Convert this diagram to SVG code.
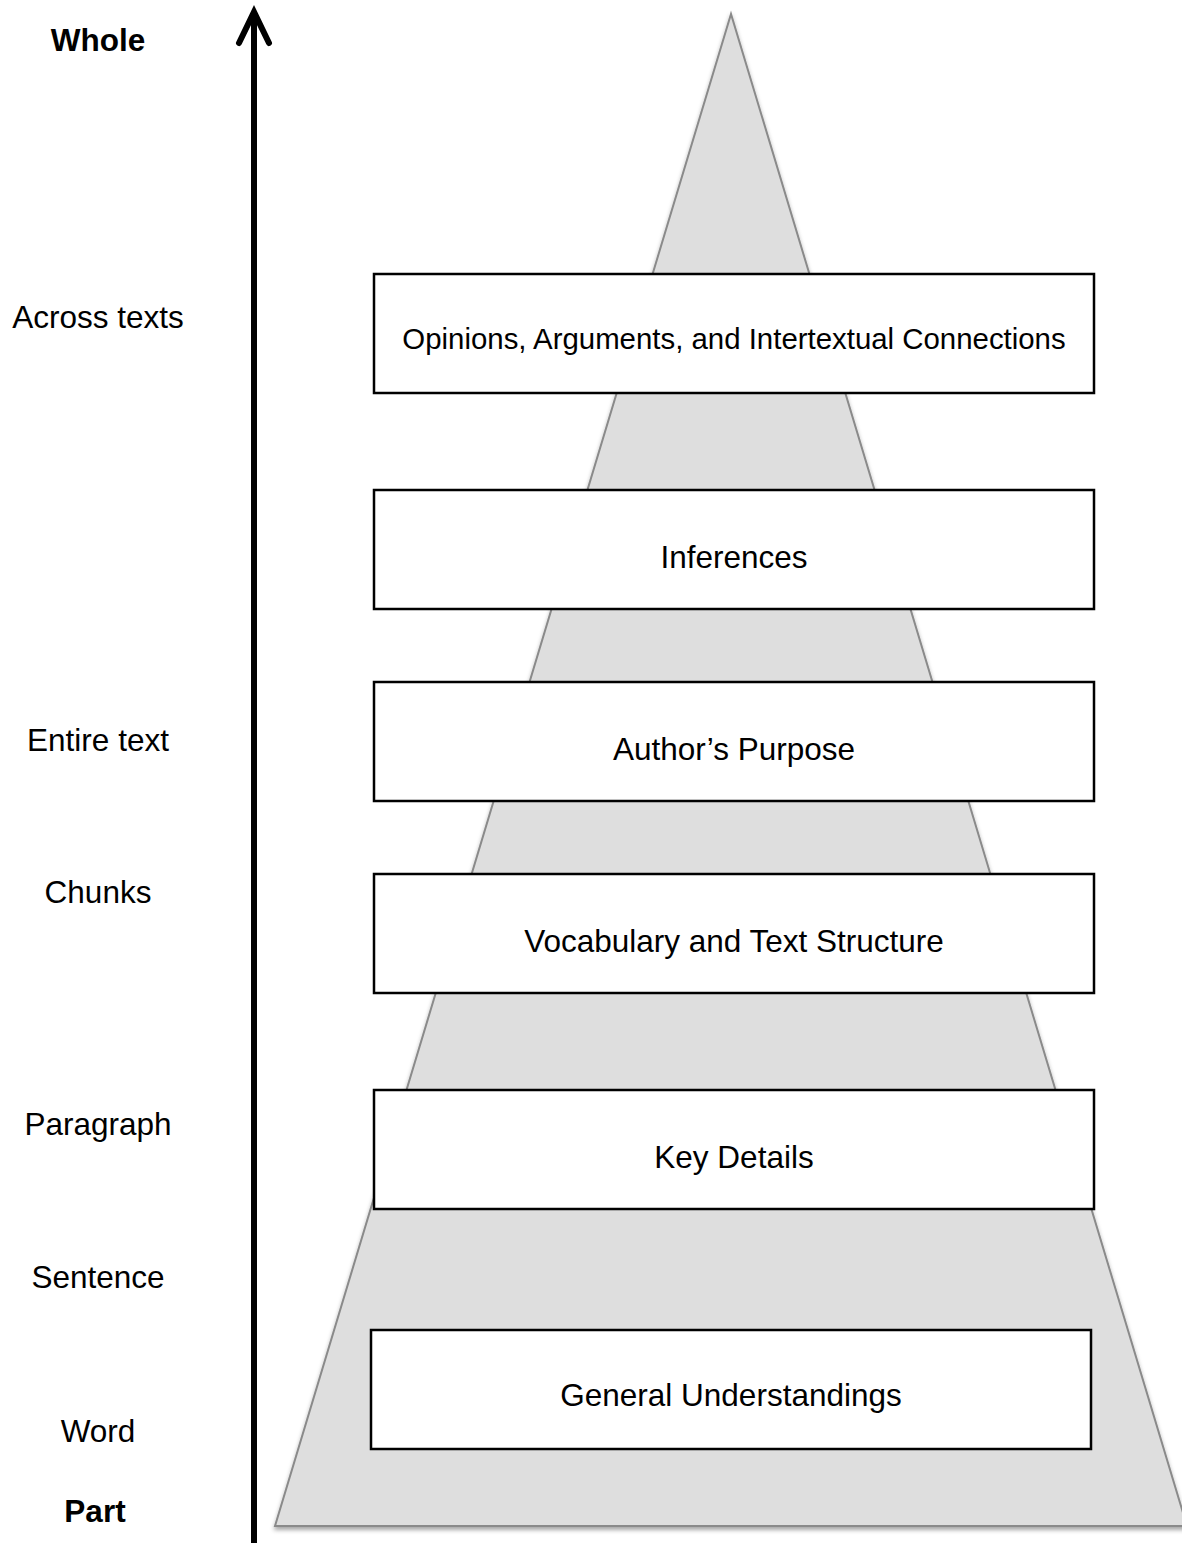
<svg xmlns="http://www.w3.org/2000/svg" width="1182" height="1543" viewBox="0 0 1182 1543">
<style>
.lbl{font-family:"Liberation Sans",Arial,sans-serif;font-size:31.5px;fill:#000;text-anchor:middle}
.b{font-weight:bold}
.box{fill:#fff;stroke:#000;stroke-width:2.5}
.bt{font-family:"Liberation Sans",Arial,sans-serif;font-size:31.5px;fill:#000;text-anchor:middle}
</style>
<defs>
<filter id="sh" x="-5%" y="-5%" width="110%" height="110%">
<feDropShadow dx="0" dy="3" stdDeviation="2" flood-color="#000" flood-opacity="0.35"/>
</filter>
</defs>
<rect width="1182" height="1543" fill="#fff"/>
<g id="pyramid">
<polygon points="731,14 275,1526 1187,1526" fill="#dedede" stroke="#8a8a8a" stroke-width="2" filter="url(#sh)"/>
</g>
<g id="connectors">
<line x1="254" y1="1543" x2="254" y2="14" stroke="#000" stroke-width="6"/>
<polyline points="239,43 254,12 269,43" fill="none" stroke="#000" stroke-width="6" stroke-linecap="round" stroke-linejoin="miter"/>
</g>
<g id="labels">
<text class="lbl b" x="98" y="51">Whole</text>
<text class="lbl" x="98" y="328">Across texts</text>
<text class="lbl" x="98" y="751">Entire text</text>
<text class="lbl" x="98" y="903">Chunks</text>
<text class="lbl" x="98" y="1135">Paragraph</text>
<text class="lbl" x="98" y="1288">Sentence</text>
<text class="lbl" x="98" y="1442">Word</text>
<text class="lbl b" x="95" y="1522">Part</text>
</g>
<g id="n1"><rect class="box" x="374" y="274" width="720" height="119"/><text class="bt" x="734" y="349" style="font-size:29.4px">Opinions, Arguments, and Intertextual Connections</text></g>
<g id="n2"><rect class="box" x="374" y="490" width="720" height="119"/><text class="bt" x="734" y="568">Inferences</text></g>
<g id="n3"><rect class="box" x="374" y="682" width="720" height="119"/><text class="bt" x="734" y="760">Author’s Purpose</text></g>
<g id="n4"><rect class="box" x="374" y="874" width="720" height="119"/><text class="bt" x="734" y="952">Vocabulary and Text Structure</text></g>
<g id="n5"><rect class="box" x="374" y="1090" width="720" height="119"/><text class="bt" x="734" y="1168">Key Details</text></g>
<g id="n6"><rect class="box" x="371" y="1330" width="720" height="119"/><text class="bt" x="731" y="1406">General Understandings</text></g>
</svg>
